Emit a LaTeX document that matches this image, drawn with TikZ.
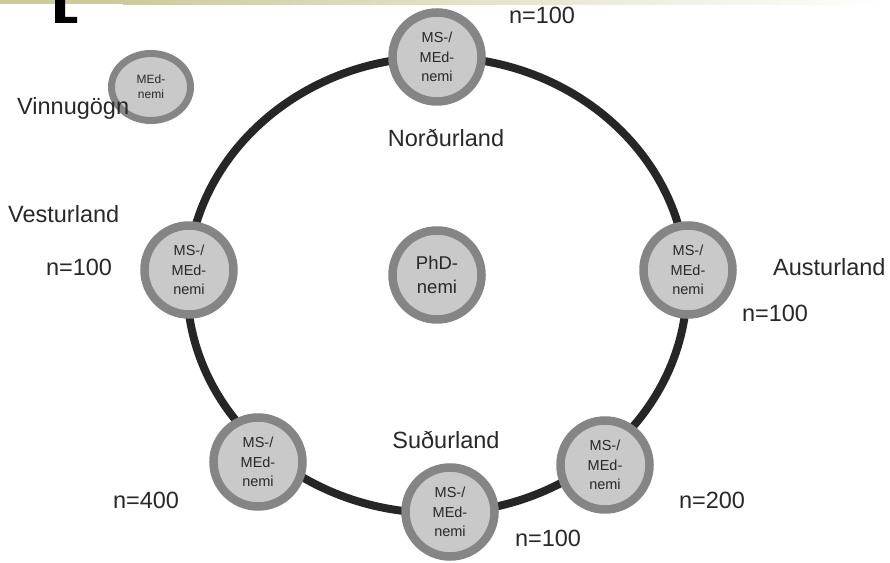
\documentclass[tikz,border=0pt]{standalone}
\usepackage{fontspec}
\setmainfont{Liberation Sans}
\usetikzlibrary{shapes.geometric}

\definecolor{ringgray}{RGB}{133,133,133}
\definecolor{nodegray}{RGB}{201,201,201}
\definecolor{loopdark}{RGB}{38,38,38}
\definecolor{olivebar}{RGB}{204,204,153}
\definecolor{labeltext}{RGB}{40,40,40}

\begin{document}
\begin{tikzpicture}[x=1pt,y=1pt,
    student/.style={circle,draw=ringgray,fill=nodegray,line width=8.5pt,
      minimum size=89pt,inner sep=0pt,align=center,text=labeltext,
      font=\fontsize{14.5}{19.5}\selectfont},
    region/.style={text=labeltext,inner sep=0pt,
      font=\fontsize{23.5}{28}\selectfont}]
  \useasboundingbox (0,0) rectangle (890,562);
  % bar and cut-off letter at the top
  \fill[olivebar] (0,562) rectangle (123,558);
  \shade[left color=olivebar,right color=white] (123,562) rectangle (890,557);
  \fill[black]
    (55,562) -- (65,562) -- (65,545) -- (77,545) -- (77,539) -- (55,539) -- cycle;

  % the ring
  \draw[loopdark,line width=8pt] (437,277) ellipse [x radius=250,y radius=228];

  % students
  \node[student] (north) at (437,505) {MS-/\\MEd-\\nemi};
  \node[student] (west) at (189,292) {MS-/\\MEd-\\nemi};
  \node[student] (east) at (688,292) {MS-/\\MEd-\\nemi};
  \node[student] (south) at (450,50) {MS-/\\MEd-\\nemi};
  \node[student] (southwest) at (258,100) {MS-/\\MEd-\\nemi};
  \node[student] (southeast) at (605,97) {MS-/\\MEd-\\nemi};
  \node[student,font=\fontsize{18.5}{24}\selectfont] (phd) at (437,287) {PhD-\\nemi};
  \node[student,ellipse,line width=7pt,minimum width=79pt,minimum height=67pt,
    font=\fontsize{12}{15}\selectfont] (data) at (151,475) {MEd-\\nemi};

  % labels
  \node[region] (northN) at (542,547) {n=100};
  \node[region,anchor=west] (dataName) at (17,454) {Vinnugögn};
  \node[region] (northName) at (446,424) {Norðurland};
  \node[region,anchor=west] (westName) at (8,348) {Vesturland};
  \node[region] (westN) at (79,295) {n=100};
  \node[region,anchor=west] (eastName) at (773,295) {Austurland};
  \node[region] (eastN) at (775,249) {n=100};
  \node[region] (southName) at (446,122) {Suðurland};
  \node[region] (southwestN) at (146,62) {n=400};
  \node[region] (southeastN) at (712,62) {n=200};
  \node[region] (southN) at (548,24) {n=100};
\end{tikzpicture}
\end{document}
